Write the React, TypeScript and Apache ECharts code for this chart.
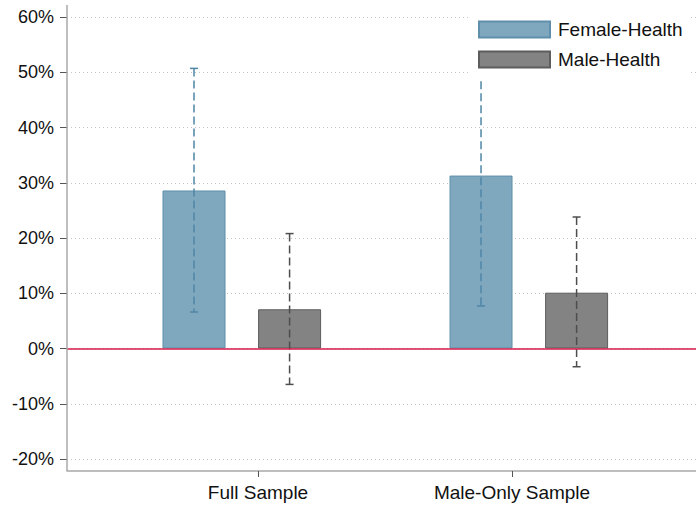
import React, { useEffect, useRef } from "react";
import * as echarts from "echarts";

const categories = ["Full Sample", "Male-Only Sample"];
const labelPositions = [1.223, 2.108];
const femaleX = [1, 2];
const maleX = [1.333, 2.333];
const femaleValues = [0.286, 0.313];
const femaleLow = [0.066, 0.077];
const femaleHigh = [0.507, 0.549];
const maleValues = [0.071, 0.101];
const maleLow = [-0.065, -0.033];
const maleHigh = [0.208, 0.238];
const seriesNames = ["Female-Health", "Male-Health"];

const FONT = "'Liberation Sans', Arial, sans-serif";

function errorSeries(name: string, xs: number[], lo: number[], hi: number[], color: string) {
  return {
    type: "custom",
    name: name + "-ci",
    z: 3,
    silent: true,
    encode: { x: 0, y: [1, 2] },
    data: xs.map((x, i) => [x, lo[i], hi[i]]),
    renderItem: (params: any, api: any) => {
      const x = api.value(0);
      const pLo = api.coord([x, api.value(1)]);
      const pHi = api.coord([x, api.value(2)]);
      const cap = 4;
      const style = { stroke: color, lineWidth: 1.5 };
      return {
        type: "group",
        children: [
          {
            type: "line",
            shape: { x1: pHi[0], y1: pHi[1], x2: pLo[0], y2: pLo[1] },
            style: { ...style, lineDash: [8, 4] },
          },
          { type: "line", shape: { x1: pHi[0] - cap, y1: pHi[1], x2: pHi[0] + cap, y2: pHi[1] }, style },
          { type: "line", shape: { x1: pLo[0] - cap, y1: pLo[1], x2: pLo[0] + cap, y2: pLo[1] }, style },
        ],
      };
    },
  };
}

export default function App() {
  const ref = useRef<HTMLDivElement>(null);
  useEffect(() => {
    document.body.style.margin = "0";
    const chart = echarts.init(ref.current!, null, { renderer: "svg" });
    chart.setOption({
      animation: false,
      backgroundColor: "#fff",
      textStyle: { fontFamily: FONT },
      grid: { left: 67, right: 0, top: 17, bottom: 48 },
      legend: {
        data: seriesNames,
        orient: "vertical",
        left: 468,
        top: 5,
        padding: [15, 8, 9, 10],
        itemWidth: 71,
        itemHeight: 16,
        itemGap: 11,
        icon: "rect",
        backgroundColor: "#fff",
        textStyle: { fontSize: 19, color: "#111", fontFamily: FONT, padding: [0, 0, 0, 3] },
      },
      xAxis: {
        type: "value",
        min: 0.5575,
        max: 2.749,
        offset: 12,
        axisLine: { show: true, onZero: false, lineStyle: { color: "#a8a8a8", width: 1.5 } },
        axisTick: { show: true, customValues: labelPositions, length: 6, lineStyle: { color: "#555" } },
        axisLabel: {
          customValues: labelPositions,
          formatter: (v: number) => {
            let best = 0;
            labelPositions.forEach((p, i) => {
              if (Math.abs(p - v) < Math.abs(labelPositions[best] - v)) best = i;
            });
            return categories[best];
          },
          fontSize: 19,
          color: "#111",
          margin: 12,
          fontFamily: FONT,
        },
        splitLine: { show: false },
      },
      yAxis: {
        type: "value",
        min: -0.2,
        max: 0.6,
        interval: 0.1,
        axisLine: { show: false, onZero: false },
        axisTick: { show: true, length: 7, lineStyle: { color: "#555" } },
        axisLabel: {
          formatter: (v: number) => Math.round(v * 100) + "%",
          fontSize: 18,
          color: "#111",
          margin: 13,
          fontFamily: FONT,
        },
        splitLine: { show: true, lineStyle: { color: "#c4c4c4", type: [1, 3], width: 1 } },
      },
      graphic: [
        {
          type: "line",
          shape: { x1: 67, y1: 5, x2: 67, y2: 471 },
          style: { stroke: "#a8a8a8", lineWidth: 1.5 },
          z: 10,
        },
      ],
      series: [
        {
          type: "bar",
          name: seriesNames[0],
          barWidth: 63,
          barGap: "-100%",
          data: femaleX.map((x, i) => [x, femaleValues[i]]),
          itemStyle: { color: "#7fa8be", borderColor: "#5f8fab", borderWidth: 1 },
          markLine: {
            silent: true,
            symbol: "none",
            label: { show: false },
            lineStyle: { color: "#d81b4a", width: 1.5, type: "solid" },
            data: [{ yAxis: 0 }],
          },
        },
        {
          type: "bar",
          name: seriesNames[1],
          barWidth: 63,
          barGap: "-100%",
          data: maleX.map((x, i) => [x, maleValues[i]]),
          itemStyle: { color: "#838383", borderColor: "#5d5d5d", borderWidth: 1 },
        },
        errorSeries(seriesNames[0], femaleX, femaleLow, femaleHigh, "#4f86a6"),
        errorSeries(seriesNames[1], maleX, maleLow, maleHigh, "#4d4d4d"),
      ],
    });
    return () => chart.dispose();
  }, []);
  return <div ref={ref} style={{ width: 696, height: 507 }} />;
}
